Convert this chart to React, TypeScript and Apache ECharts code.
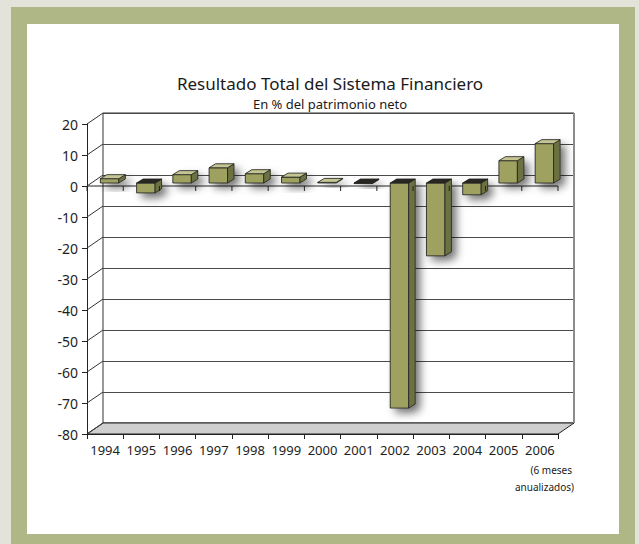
import React, { useEffect, useRef } from "react";
import * as echarts from "echarts";

const years = ["1994", "1995", "1996", "1997", "1998", "1999", "2000", "2001", "2002", "2003", "2004", "2005", "2006"];
const values = [1.4, -3.2, 2.7, 4.9, 3.0, 1.9, 0.2, -0.2, -72.6, -23.5, -3.8, 7.2, 12.7];
const yMin = -80;
const yMax = 20;
const yStep = 10;
const titleText = "Resultado Total del Sistema Financiero";
const subtitleText = "En % del patrimonio neto";
const noteLines = ["(6 meses", "anualizados)"];

const FONT = "'Noto Sans', 'Open Sans', sans-serif";
const DX = 16;
const DY = -11;

export default function App() {
  const ref = useRef<HTMLDivElement>(null);
  useEffect(() => {
    if (!ref.current) return;
    const chart = echarts.init(ref.current, null, { renderer: "svg" });
    const yTicks: number[] = [];
    for (let t = yMin; t <= yMax; t += yStep) yTicks.push(t);

    const GL = 87, GT = 124, GW = 471, GH = 310;

    const option: any = {
      animation: false,
      backgroundColor: "transparent",
      grid: [
        { left: GL, top: GT, width: GW, height: GH, outerBoundsMode: "none" },
        {
          left: GL + DX, top: GT + DY, width: GW, height: GH, outerBoundsMode: "none",
          show: true, borderColor: "#333", borderWidth: 1, backgroundColor: "transparent",
        },
      ],
      xAxis: [
        {
          type: "category", data: years, gridIndex: 0,
          axisLine: { onZero: false, lineStyle: { color: "#222", width: 1 } },
          axisTick: { show: true, length: 5, lineStyle: { color: "#222" } },
          axisLabel: { color: "#1e1e1e", fontSize: 13, fontFamily: FONT, margin: 9, interval: 0 },
          splitLine: { show: false },
        },
        { type: "category", data: years, gridIndex: 1, show: false },
      ],
      yAxis: [
        {
          type: "value", min: yMin, max: yMax, interval: yStep, gridIndex: 0,
          axisLine: { show: true, lineStyle: { color: "#222", width: 1 } },
          axisTick: { show: true, length: 5, lineStyle: { color: "#222" } },
          axisLabel: { color: "#1e1e1e", fontSize: 14, fontFamily: FONT, margin: 9 },
          splitLine: { show: false },
        },
        {
          type: "value", min: yMin, max: yMax, interval: yStep, gridIndex: 1,
          axisLine: { show: false }, axisTick: { show: false }, axisLabel: { show: false },
          splitLine: { show: true, lineStyle: { color: "#4a4a4a", width: 1 } },
        },
      ],
      graphic: [
        { type: "text", x: 330, y: 83, style: { text: titleText, font: `17px ${FONT}`, fill: "#1a1a1a", textAlign: "center", textVerticalAlign: "middle" } },
        { type: "text", x: 330, y: 104, style: { text: subtitleText, font: `13px ${FONT}`, fill: "#1a1a1a", textAlign: "center", textVerticalAlign: "middle" } },
        { type: "text", x: 572, y: 470, style: { text: noteLines[0], font: `10px ${FONT}`, fill: "#1a1a1a", textAlign: "right", textVerticalAlign: "middle" } },
        { type: "text", x: 574, y: 487, style: { text: noteLines[1], font: `10px ${FONT}`, fill: "#1a1a1a", textAlign: "right", textVerticalAlign: "middle" } },
      ],
      series: [
        {
          type: "custom", xAxisIndex: 0, yAxisIndex: 0, z: 1, silent: true,
          data: [[0, 0]],
          renderItem: (params: any, api: any) => {
            const cs = params.coordSys;
            const gx = cs.x, gt = cs.y, gw = cs.width, gb = cs.y + cs.height;
            const children: any[] = [];
            children.push({
              type: "polygon",
              shape: { points: [[gx, gb], [gx + gw, gb], [gx + gw + DX, gb + DY], [gx + DX, gb + DY]] },
              style: { fill: "#cfcfcf", stroke: "#222", lineWidth: 1 },
            });
            yTicks.forEach((t) => {
              const y = api.coord([0, t])[1];
              children.push({
                type: "line",
                shape: { x1: gx, y1: y, x2: gx + DX, y2: y + DY },
                style: { stroke: "#333", lineWidth: 1 },
              });
            });
            children.push({
              type: "line",
              shape: { x1: gx + gw + DX, y1: gt + DY, x2: gx + gw + DX, y2: gb + DY },
              style: { stroke: "#8c8c8c", lineWidth: 2 },
            });
            const y0 = api.coord([0, 0])[1];
            children.push({
              type: "line",
              shape: { x1: gx, y1: y0, x2: gx + gw, y2: y0 },
              style: { stroke: "#222", lineWidth: 1 },
            });
            return { type: "group", children };
          },
        },
        {
          type: "custom", xAxisIndex: 0, yAxisIndex: 0, z: 3, silent: true,
          data: years.map((_, i) => [i, values[i]]),
          renderItem: (params: any, api: any) => {
            const i = api.value(0);
            const v = api.value(1);
            const p0 = api.coord([i, 0]);
            const p1 = api.coord([i, v]);
            const bw = api.size([1, 0])[0] * 0.51;
            const ox = 4.5, oy = -3, dx = 6.5, dy = -4;
            const xl = p0[0] + ox - bw / 2;
            const xr = xl + bw;
            const yb = p0[1] + oy;
            const yt = p1[1] + oy;
            const top = Math.min(yb, yt);
            const bot = Math.max(yb, yt);
            const stroke = "#222";
            const lw = 0.8;
            return {
              type: "group",
              children: [
                {
                  type: "polygon",
                  shape: { points: [[xl, top], [xl + dx, top + dy], [xr + dx, top + dy], [xr + dx, bot + dy], [xr, bot], [xl, bot]] },
                  style: { fill: "#7d8050", shadowBlur: 9, shadowColor: "rgba(0,0,0,0.55)", shadowOffsetX: 5, shadowOffsetY: 5 },
                },
                {
                  type: "rect",
                  shape: { x: xl, y: top, width: bw, height: bot - top },
                  style: { fill: "#9ea160", stroke, lineWidth: lw },
                },
                {
                  type: "polygon",
                  shape: { points: [[xr, top], [xr + dx, top + dy], [xr + dx, bot + dy], [xr, bot]] },
                  style: { fill: "#6c7142", stroke, lineWidth: lw },
                },
                {
                  type: "polygon",
                  shape: { points: [[xl, top], [xr, top], [xr + dx, top + dy], [xl + dx, top + dy]] },
                  style: { fill: v >= 0 ? "#c4c593" : "#2a2622", stroke, lineWidth: lw },
                },
              ],
            };
          },
        },
        {
          type: "custom", xAxisIndex: 0, yAxisIndex: 0, z: 4, silent: true,
          data: [[0, 0]],
          renderItem: (params: any, api: any) => {
            const cs = params.coordSys;
            const y0 = api.coord([0, 0])[1];
            const children: any[] = [];
            for (let k = 0; k <= years.length; k++) {
              const x = cs.x + (k * cs.width) / years.length;
              children.push({
                type: "line",
                shape: { x1: x, y1: y0, x2: x, y2: y0 + 5 },
                style: { stroke: "#222", lineWidth: 1 },
              });
            }
            return { type: "group", children };
          },
        },
      ],
    };
    chart.setOption(option);
    return () => chart.dispose();
  }, []);

  return (
    <div style={{ position: "fixed", left: 0, top: 0, width: 639, height: 544, background: "#e3e3d9", overflow: "hidden" }}>
      <div style={{ position: "absolute", left: 11, top: 7, width: 624, height: 537, background: "#afb786" }} />
      <div style={{ position: "absolute", left: 27, top: 24, width: 592, height: 510, background: "#ffffff" }} />
      <div ref={ref} style={{ position: "absolute", left: 0, top: 0, width: 639, height: 544 }} />
    </div>
  );
}
